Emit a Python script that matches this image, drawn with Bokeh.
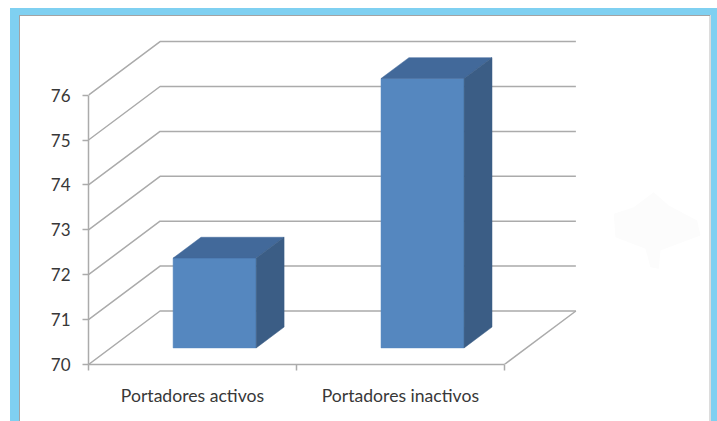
from bokeh.embed import file_html
from bokeh.models import FixedTicker, LinearAxis, Range1d
from bokeh.plotting import figure
from bokeh.resources import INLINE

categories = ["Portadores activos", "Portadores inactivos"]
values = [72, 76]
value_ticks = [70, 71, 72, 73, 74, 75, 76]

# Oblique projection of the 3D chart box: pixels per unit on each axis,
# and the shift of the back wall relative to the front plane.
PX_PER_CAT = 207.75
PX_PER_VAL = 44.9
FRAME_LEFT = 88
FRAME_BOTTOM = 57
W, H = 717, 421
DEPTH_X = 71.5 / PX_PER_CAT
DEPTH_Y = 53.5 / PX_PER_VAL
BASE = value_ticks[0]


def project(cat, val, depth=0.0):
    return cat + depth * DEPTH_X, val + depth * DEPTH_Y


def page_to_data(px, py):
    return (px - FRAME_LEFT - 0.5) / PX_PER_CAT, BASE + (H - FRAME_BOTTOM - py) / PX_PER_VAL


# Page frame: pale blue band with a thin grey inner edge, painted as CSS
# backgrounds behind the transparent plot canvas.
BLUE, GREY, PALE = "#7fd0f1", "#a3a3a3", "#dcdcdc"


def band(col, left, top, width, height):
    return f"linear-gradient({col},{col}) {left}px {top}px/{width}px {height}px no-repeat"


page_background = ", ".join([
    band(GREY, 19, 15, 691, 1),
    band(GREY, 19, 15, 1, 406),
    band(PALE, 709, 15, 2, 406),
    band(BLUE, 10, 8, 707, 7),
    band(BLUE, 10, 8, 9, 413),
    band(BLUE, 711, 8, 6, 413),
])

p = figure(
    width=W, height=H, output_backend="svg", toolbar_location=None,
    x_range=Range1d(0, (W - FRAME_LEFT - 0.5) / PX_PER_CAT),
    y_range=Range1d(BASE, BASE + (H - FRAME_BOTTOM) / PX_PER_VAL),
    x_axis_type=None, y_axis_type=None,
    min_border_left=FRAME_LEFT, min_border_right=0,
    min_border_top=0, min_border_bottom=FRAME_BOTTOM,
    outline_line_color=None, background_fill_color=None,
    border_fill_color=None,
    styles={"background": page_background},
)
p.grid.visible = False

AXIS = "#ababab"
TEXT = "#383838"

y_axis = LinearAxis(
    ticker=FixedTicker(ticks=value_ticks), bounds=(BASE, value_ticks[-1]),
    axis_line_color=AXIS, axis_line_width=1.5,
    major_tick_line_color=AXIS, major_tick_line_width=1.5,
    major_tick_in=0, major_tick_out=6, minor_tick_line_color=None,
    major_label_text_font="Lato", major_label_text_font_size="17px",
    major_label_text_color=TEXT, major_label_standoff=12,
)
p.add_layout(y_axis, "left")

centers = [i + 0.5 for i in range(len(categories))]
boundaries = list(range(len(categories) + 1))
x_axis = LinearAxis(
    ticker=FixedTicker(ticks=centers, minor_ticks=boundaries),
    bounds=(0, len(categories)),
    major_label_overrides=dict(zip(centers, categories)),
    axis_line_color=AXIS, axis_line_width=1.5,
    major_tick_line_color=None, major_tick_in=0, major_tick_out=0,
    minor_tick_line_color=AXIS, minor_tick_line_width=1.5,
    minor_tick_in=0, minor_tick_out=6,
    major_label_text_font="Lato", major_label_text_font_size="17.6px",
    major_label_text_color=TEXT, major_label_standoff=14,
)
p.add_layout(x_axis, "below")

# Faint smudge on the right of the page.
smudge = [page_to_data(590 + a / 3, 170 + b / 3) for a, b in [
    (190, 65), (235, 105), (320, 150), (330, 195), (250, 225), (210, 240),
    (205, 295), (180, 290), (165, 235), (75, 200), (70, 130), (130, 110),
]]
p.patch([q[0] for q in smudge], [q[1] for q in smudge],
        fill_color="#fcfcfc", line_color=None)

# Wall gridlines: each runs back from the value axis, then across the back wall.
n = len(categories)
for v in value_ticks:
    x0, y0 = project(0, v)
    x1, y1 = project(0, v, 1)
    x2, y2 = project(n, v, 1)
    p.line([x0, x1, x2], [y0, y1, y2], line_color=AXIS, line_width=1.5)

# Right-hand edge of the floor.
fx0, fy0 = project(n, BASE)
fx1, fy1 = project(n, BASE, 1)
p.line([fx0, fx1], [fy0, fy1], line_color=AXIS, line_width=1.5)

# Bars: front, top and side faces.
BAR_W = 83 / PX_PER_CAT
D0, D1 = 0.31, 0.70
FRONT, TOP, SIDE = "#5587bf", "#42699a", "#3b5d85"
for c, v in zip(centers, values):
    l, r = c - BAR_W / 2, c + BAR_W / 2
    for pts, col in (
        ([(l, BASE, D0), (r, BASE, D0), (r, v, D0), (l, v, D0)], FRONT),
        ([(l, v, D0), (r, v, D0), (r, v, D1), (l, v, D1)], TOP),
        ([(r, BASE, D0), (r, BASE, D1), (r, v, D1), (r, v, D0)], SIDE),
    ):
        xy = [project(*q) for q in pts]
        p.patch([q[0] for q in xy], [q[1] for q in xy], fill_color=col,
                line_color=col, line_width=0.5)

open("out.html", "w").write(file_html(p, INLINE))
